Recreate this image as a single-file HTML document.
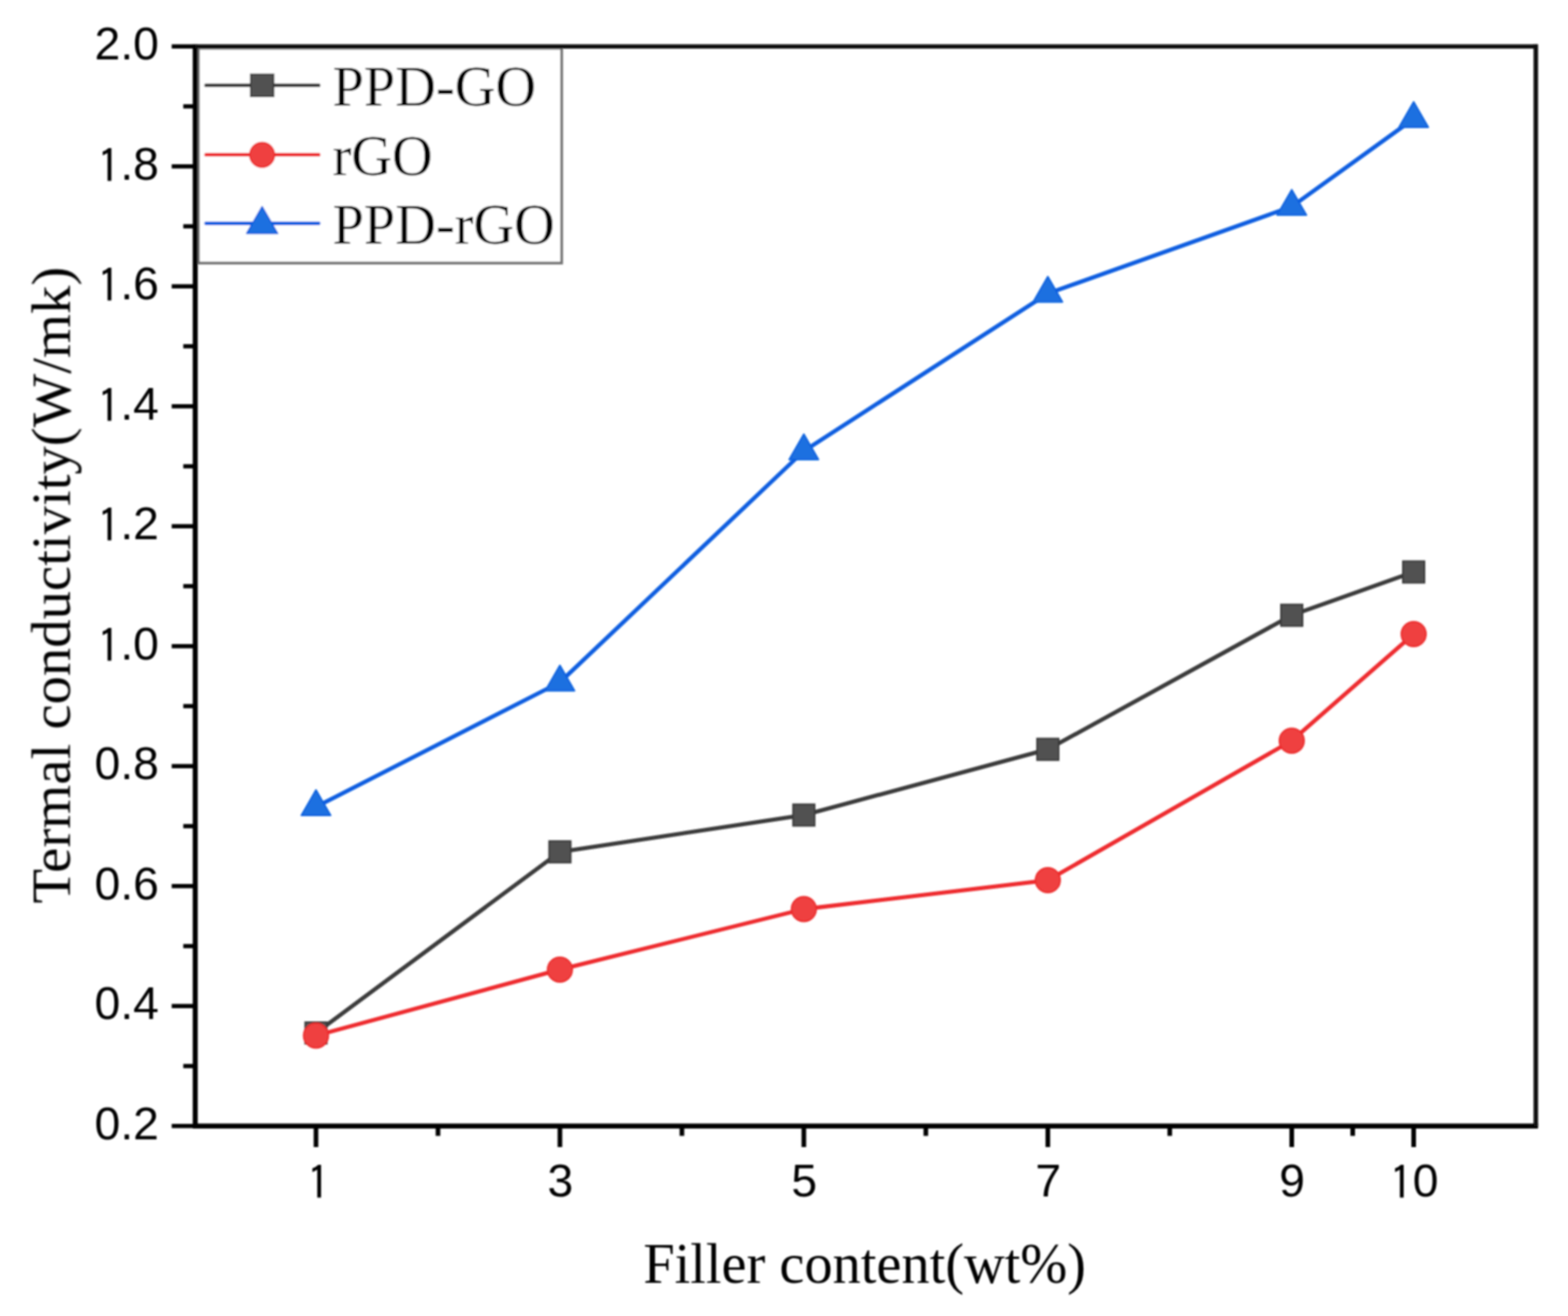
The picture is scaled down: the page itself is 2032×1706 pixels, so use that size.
<!DOCTYPE html><html><head><meta charset="utf-8"><title>Thermal conductivity vs filler content</title>
<style>html,body{margin:0;padding:0;background:#fff;overflow:hidden}svg{display:block}.tk{font-family:"Liberation Sans",Arial,sans-serif;font-size:60px;fill:#000}.one{font-family:IPAGothic,"Liberation Sans",sans-serif;baseline-shift:-3.5px}.sf{font-family:"Liberation Serif","Times New Roman",serif;fill:#000}</style></head><body>
<svg width="2032" height="1706" viewBox="0 0 2032 1706">
<defs><filter id="b" x="-5%" y="-5%" width="110%" height="110%"><feGaussianBlur stdDeviation="0.95"/></filter></defs>
<rect width="2032" height="1706" fill="#fff"/>
<g filter="url(#b)">
<polyline points="409.5,1339.1 725.6,1104.3 1041.7,1056.6 1357.9,971.4 1674.0,797.6 1832.0,741.5" fill="none" stroke="#3a3a3a" stroke-width="5.3" stroke-linejoin="round" stroke-linecap="round"/>
<polyline points="409.5,1342.5 725.6,1256.9 1041.7,1178.5 1357.9,1141.1 1674.0,960.3 1832.0,822.0" fill="none" stroke="#ee2c2e" stroke-width="5.3" stroke-linejoin="round" stroke-linecap="round"/>
<polyline points="409.5,1046.0 725.6,884.5 1041.7,584.7 1357.9,380.5 1674.0,267.8 1832.0,154.0" fill="none" stroke="#0a5de0" stroke-width="5.3" stroke-linejoin="round" stroke-linecap="round"/>
<rect x="395.5" y="1325.1" width="28.0" height="28.0" fill="#515151" stroke="#383838" stroke-width="2"/>
<rect x="711.6" y="1090.3" width="28.0" height="28.0" fill="#515151" stroke="#383838" stroke-width="2"/>
<rect x="1027.7" y="1042.6" width="28.0" height="28.0" fill="#515151" stroke="#383838" stroke-width="2"/>
<rect x="1343.9" y="957.4" width="28.0" height="28.0" fill="#515151" stroke="#383838" stroke-width="2"/>
<rect x="1660.0" y="783.6" width="28.0" height="28.0" fill="#515151" stroke="#383838" stroke-width="2"/>
<rect x="1818.0" y="727.5" width="28.0" height="28.0" fill="#515151" stroke="#383838" stroke-width="2"/>
<circle cx="409.5" cy="1342.5" r="16.0" fill="#ef4040" stroke="#ec2c2c" stroke-width="2"/>
<circle cx="725.6" cy="1256.9" r="16.0" fill="#ef4040" stroke="#ec2c2c" stroke-width="2"/>
<circle cx="1041.7" cy="1178.5" r="16.0" fill="#ef4040" stroke="#ec2c2c" stroke-width="2"/>
<circle cx="1357.9" cy="1141.1" r="16.0" fill="#ef4040" stroke="#ec2c2c" stroke-width="2"/>
<circle cx="1674.0" cy="960.3" r="16.0" fill="#ef4040" stroke="#ec2c2c" stroke-width="2"/>
<circle cx="1832.0" cy="822.0" r="16.0" fill="#ef4040" stroke="#ec2c2c" stroke-width="2"/>
<polygon points="409.5,1024.1 428.5,1057.0 390.5,1057.0" fill="#1c6fe0" stroke="#0960df" stroke-width="2" stroke-linejoin="round"/>
<polygon points="725.6,862.6 744.6,895.5 706.6,895.5" fill="#1c6fe0" stroke="#0960df" stroke-width="2" stroke-linejoin="round"/>
<polygon points="1041.7,562.8 1060.7,595.7 1022.7,595.7" fill="#1c6fe0" stroke="#0960df" stroke-width="2" stroke-linejoin="round"/>
<polygon points="1357.9,358.6 1376.9,391.5 1338.9,391.5" fill="#1c6fe0" stroke="#0960df" stroke-width="2" stroke-linejoin="round"/>
<polygon points="1674.0,245.9 1693.0,278.8 1655.0,278.8" fill="#1c6fe0" stroke="#0960df" stroke-width="2" stroke-linejoin="round"/>
<polygon points="1832.0,132.1 1851.0,165.0 1813.0,165.0" fill="#1c6fe0" stroke="#0960df" stroke-width="2" stroke-linejoin="round"/>
<rect x="257.2" y="62.6" width="470.6" height="278.4" fill="#fff" stroke="#727272" stroke-width="3.6"/>
<line x1="267" y1="110.7" x2="413" y2="110.7" stroke="#3a3a3a" stroke-width="4.8" stroke-linecap="round"/>
<rect x="324.9" y="96.4" width="29.6" height="28.6" fill="#515151" stroke="#383838" stroke-width="2"/>
<text class="sf" x="431" y="137.4" font-size="73">PPD-GO</text>
<line x1="267" y1="200.7" x2="413" y2="200.7" stroke="#ee2c2e" stroke-width="4.8" stroke-linecap="round"/>
<circle cx="339.7" cy="200.7" r="16.0" fill="#ef4040" stroke="#ec2c2c" stroke-width="2"/>
<text class="sf" x="431" y="226.6" font-size="73">rGO</text>
<line x1="267" y1="289.6" x2="413" y2="289.6" stroke="#0a5de0" stroke-width="4.8" stroke-linecap="round"/>
<polygon points="339.7,268.0 359.7,302.6 319.7,302.6" fill="#1c6fe0" stroke="#0960df" stroke-width="2" stroke-linejoin="round"/>
<text class="sf" x="431" y="315.9" font-size="73">PPD-rGO</text>
<line x1="253" y1="57.7" x2="253" y2="1462.7" stroke="#000" stroke-width="6.5"/>
<line x1="250" y1="1459.7" x2="1993.2" y2="1459.7" stroke="#000" stroke-width="6.6"/>
<line x1="253" y1="60.2" x2="1993" y2="60.2" stroke="#0a0a0a" stroke-width="5.6"/>
<line x1="1990.3" y1="57.400000000000006" x2="1990.3" y2="1459.7" stroke="#0a0a0a" stroke-width="5.8"/>
<line x1="222.5" y1="1459.7" x2="253" y2="1459.7" stroke="#000" stroke-width="5.5"/>
<text class="tk" x="206" y="1476.5" text-anchor="end">0.2</text>
<line x1="222.5" y1="1304.2" x2="253" y2="1304.2" stroke="#000" stroke-width="5.5"/>
<text class="tk" x="206" y="1321.0" text-anchor="end">0.4</text>
<line x1="222.5" y1="1148.7" x2="253" y2="1148.7" stroke="#000" stroke-width="5.5"/>
<text class="tk" x="206" y="1165.5" text-anchor="end">0.6</text>
<line x1="222.5" y1="993.2" x2="253" y2="993.2" stroke="#000" stroke-width="5.5"/>
<text class="tk" x="206" y="1010.0" text-anchor="end">0.8</text>
<line x1="222.5" y1="837.7" x2="253" y2="837.7" stroke="#000" stroke-width="5.5"/>
<text class="tk" x="206" y="854.5" text-anchor="end"><tspan class="one">1</tspan>.0</text>
<line x1="222.5" y1="682.2" x2="253" y2="682.2" stroke="#000" stroke-width="5.5"/>
<text class="tk" x="206" y="699.0" text-anchor="end"><tspan class="one">1</tspan>.2</text>
<line x1="222.5" y1="526.7" x2="253" y2="526.7" stroke="#000" stroke-width="5.5"/>
<text class="tk" x="206" y="543.5" text-anchor="end"><tspan class="one">1</tspan>.4</text>
<line x1="222.5" y1="371.2" x2="253" y2="371.2" stroke="#000" stroke-width="5.5"/>
<text class="tk" x="206" y="388.0" text-anchor="end"><tspan class="one">1</tspan>.6</text>
<line x1="222.5" y1="215.7" x2="253" y2="215.7" stroke="#000" stroke-width="5.5"/>
<text class="tk" x="206" y="232.5" text-anchor="end"><tspan class="one">1</tspan>.8</text>
<line x1="222.5" y1="60.2" x2="253" y2="60.2" stroke="#000" stroke-width="5.5"/>
<text class="tk" x="206" y="77.0" text-anchor="end">2.0</text>
<line x1="237.5" y1="1382.0" x2="253" y2="1382.0" stroke="#000" stroke-width="5.5"/>
<line x1="237.5" y1="1226.5" x2="253" y2="1226.5" stroke="#000" stroke-width="5.5"/>
<line x1="237.5" y1="1071.0" x2="253" y2="1071.0" stroke="#000" stroke-width="5.5"/>
<line x1="237.5" y1="915.4" x2="253" y2="915.4" stroke="#000" stroke-width="5.5"/>
<line x1="237.5" y1="759.9" x2="253" y2="759.9" stroke="#000" stroke-width="5.5"/>
<line x1="237.5" y1="604.5" x2="253" y2="604.5" stroke="#000" stroke-width="5.5"/>
<line x1="237.5" y1="448.9" x2="253" y2="448.9" stroke="#000" stroke-width="5.5"/>
<line x1="237.5" y1="293.4" x2="253" y2="293.4" stroke="#000" stroke-width="5.5"/>
<line x1="237.5" y1="137.9" x2="253" y2="137.9" stroke="#000" stroke-width="5.5"/>
<line x1="409.5" y1="1459.7" x2="409.5" y2="1487" stroke="#000" stroke-width="6"/>
<text class="tk" x="412.7" y="1551" text-anchor="middle"><tspan class="one">1</tspan></text>
<line x1="725.6" y1="1459.7" x2="725.6" y2="1487" stroke="#000" stroke-width="6"/>
<text class="tk" x="726.1" y="1551" text-anchor="middle">3</text>
<line x1="1041.7" y1="1459.7" x2="1041.7" y2="1487" stroke="#000" stroke-width="6"/>
<text class="tk" x="1042.2" y="1551" text-anchor="middle">5</text>
<line x1="1357.9" y1="1459.7" x2="1357.9" y2="1487" stroke="#000" stroke-width="6"/>
<text class="tk" x="1358.4" y="1551" text-anchor="middle">7</text>
<line x1="1674.0" y1="1459.7" x2="1674.0" y2="1487" stroke="#000" stroke-width="6"/>
<text class="tk" x="1674.5" y="1551" text-anchor="middle">9</text>
<line x1="1832.0" y1="1459.7" x2="1832.0" y2="1487" stroke="#000" stroke-width="6"/>
<text class="tk" x="1832.5" y="1551" text-anchor="middle"><tspan class="one">1</tspan>0</text>
<line x1="567.6" y1="1459.7" x2="567.6" y2="1472.5" stroke="#000" stroke-width="6"/>
<line x1="883.7" y1="1459.7" x2="883.7" y2="1472.5" stroke="#000" stroke-width="6"/>
<line x1="1199.8" y1="1459.7" x2="1199.8" y2="1472.5" stroke="#000" stroke-width="6"/>
<line x1="1515.9" y1="1459.7" x2="1515.9" y2="1472.5" stroke="#000" stroke-width="6"/>
<line x1="1753.0" y1="1459.7" x2="1753.0" y2="1472.5" stroke="#000" stroke-width="6"/>
<text class="sf" x="1120.5" y="1663" font-size="73" text-anchor="middle">Filler content(wt%)</text>
<text class="sf" transform="translate(90.3,758.5) rotate(-90) scale(1,0.965)" x="0" y="0" font-size="73.5" text-anchor="middle">Termal conductivity(W/mk)</text>
</g></svg></body></html>
